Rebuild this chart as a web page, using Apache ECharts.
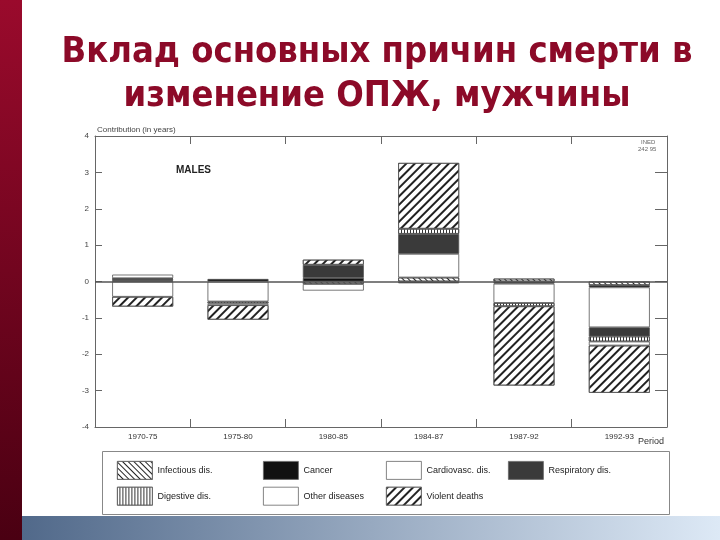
<!DOCTYPE html>
<html>
<head>
<meta charset="utf-8">
<script src="https://cdn.jsdelivr.net/npm/echarts@6/dist/echarts.min.js"></script>
<style>
html,body{margin:0;padding:0;background:#fff;}
#c{width:720px;height:540px;}
</style>
</head>
<body>
<div id="c"></div>
<script>
// ---- data (contribution in years) ----
var categories = ['1970-75', '1975-80', '1980-85', '1984-87', '1987-92', '1992-93'];
var infectious = [0.02, 0, -0.07, 0.11, 0.08, -0.10];
var cancer = [0.05, 0.07, 0.10, -0.05, -0.06, -0.06];
var cardiovasc = [-0.42, -0.55, -0.18, 0.65, -0.53, -1.10];
var respiratory = [0, 0, 0.36, 0.55, 0, -0.25];
var digestive = [0.02, -0.05, 0, 0.14, -0.09, -0.14];
var other = [0.10, -0.05, 0, 0, 0, -0.11];
var violent = [-0.27, -0.40, 0.14, 1.81, -2.18, -1.30];
var yTicks = [-4, -3, -2, -1, 0, 1, 2, 3, 4];

var names = ['Infectious dis.', 'Cancer', 'Cardiovasc. dis.', 'Respiratory dis.', 'Digestive dis.', 'Other diseases', 'Violent deaths'];
var values = [infectious, cancer, cardiovasc, respiratory, digestive, other, violent];

function clean(arr){ return arr.map(function(v){ return v === 0 ? '-' : v; }); }

var styles = [
  {color:'#fff', decal:{symbol:'rect', symbolSize:1, color:'#222', dashArrayX:[1,0], dashArrayY:[1,3], rotation:Math.PI/4}},
  {color:'#111'},
  {color:'#fff'},
  {color:'#3a3a3a'},
  {color:'#fff', decal:{symbol:'rect', symbolSize:1, color:'#333', dashArrayX:[1,0], dashArrayY:[1,2], rotation:Math.PI/2}},
  {color:'#fff'},
  {color:'#fff', decal:{symbol:'rect', symbolSize:1, color:'#222', dashArrayX:[1,0], dashArrayY:[2,4], rotation:-Math.PI/4}}
];

var series = names.map(function(n, i){
  var s = {
    name: n,
    type: 'bar',
    stack: 'total',
    barWidth: 61,
    data: clean(values[i]),
    itemStyle: Object.assign({borderColor:'#555', borderWidth:0.8}, styles[i]),
    emphasis: {disabled: true}
  };
  if (i === 0) {
    s.markLine = {
      silent: true, symbol: ['none','none'],
      label: {show:false},
      lineStyle: {color:'#555', width:1.5, type:'solid'},
      data: [{yAxis: 0}]
    };
  }
  return s;
});

var legendCommon = {
  orient: 'vertical', itemWidth: 35, itemHeight: 18, itemGap: 7, icon: 'rect',
  textStyle: {fontSize: 9, color: '#222', fontFamily: 'Liberation Sans'},
  itemStyle: {borderColor:'#666', borderWidth:0.8},
  selectedMode: false
};

var chart = echarts.init(document.getElementById('c'));
chart.setOption({
  animation: false,
  backgroundColor: '#fff',
  grid: {left: 95, top: 136, width: 572, height: 291},
  xAxis: [
    {type:'category', data: categories, position:'bottom',
     axisLine:{show:true, onZero:false, lineStyle:{color:'#666', width:1}},
     axisTick:{show:true, inside:true, length:8, alignWithLabel:false, lineStyle:{color:'#666'}},
     axisLabel:{fontSize:8, color:'#333', margin:6, fontFamily:'Liberation Sans'}},
    {type:'category', data: categories, position:'top',
     axisLine:{show:true, onZero:false, lineStyle:{color:'#666', width:1}},
     axisTick:{show:true, inside:true, length:8, lineStyle:{color:'#666'}},
     axisLabel:{show:false}}
  ],
  yAxis: [
    {type:'value', min: yTicks[0], max: yTicks[yTicks.length-1], interval:1, position:'left',
     axisLine:{show:true, lineStyle:{color:'#666', width:1}},
     axisTick:{show:true, inside:true, length:7, lineStyle:{color:'#666'}},
     splitLine:{show:false},
     axisLabel:{fontSize:8, color:'#444', margin:6, fontFamily:'Liberation Sans'}},
    {type:'value', min: yTicks[0], max: yTicks[yTicks.length-1], interval:1, position:'right',
     axisLine:{show:true, lineStyle:{color:'#666', width:1}},
     axisTick:{show:true, inside:true, length:12, lineStyle:{color:'#666'}},
     splitLine:{show:false},
     axisLabel:{show:false}}
  ],
  legend: [
    Object.assign({left:112, top:456, data:['Infectious dis.', 'Digestive dis.']}, legendCommon),
    Object.assign({left:258, top:456, data:['Cancer', 'Other diseases']}, legendCommon),
    Object.assign({left:381, top:456, data:['Cardiovasc. dis.', 'Violent deaths']}, legendCommon),
    Object.assign({left:503, top:456, data:['Respiratory dis.']}, legendCommon)
  ],
  series: series,
  graphic: [
    {type:'rect', left:0, top:0, shape:{width:22, height:540},
     style:{fill:new echarts.graphic.LinearGradient(0,0,0,1,[{offset:0,color:'#9a0a2c'},{offset:1,color:'#4a0012'}])}},
    {type:'rect', left:22, top:516, shape:{width:698, height:24},
     style:{fill:new echarts.graphic.LinearGradient(0,0,1,0,[{offset:0,color:'#51698a'},{offset:1,color:'#dde9f6'}])}},
    {type:'text', x:377, y:35, style:{text:'Вклад основных причин смерти в', font:'bold 36px "DejaVu Sans Condensed"', fill:'#8c0a28', textAlign:'center'}},
    {type:'text', x:377, y:79, style:{text:'изменение ОПЖ, мужчины', font:'bold 36px "DejaVu Sans Condensed"', fill:'#8c0a28', textAlign:'center'}},
    {type:'text', left:97, top:126, style:{text:'Contribution (in years)', font:'8px "Liberation Sans"', fill:'#444'}},
    {type:'text', left:176, top:165, style:{text:'MALES', font:'bold 10px "Liberation Sans"', fill:'#222'}},
    {type:'text', left:641, top:139, style:{text:'INED', font:'6px "Liberation Sans"', fill:'#666'}},
    {type:'text', left:638, top:146, style:{text:'242 95', font:'6px "Liberation Sans"', fill:'#666'}},
    {type:'text', left:638, top:437, style:{text:'Period', font:'9px "Liberation Sans"', fill:'#333'}},
    {type:'rect', left:100, top:449, shape:{width:567, height:63}, style:{fill:'none', stroke:'#888', lineWidth:1}}
  ]
});
</script>
</body>
</html>
